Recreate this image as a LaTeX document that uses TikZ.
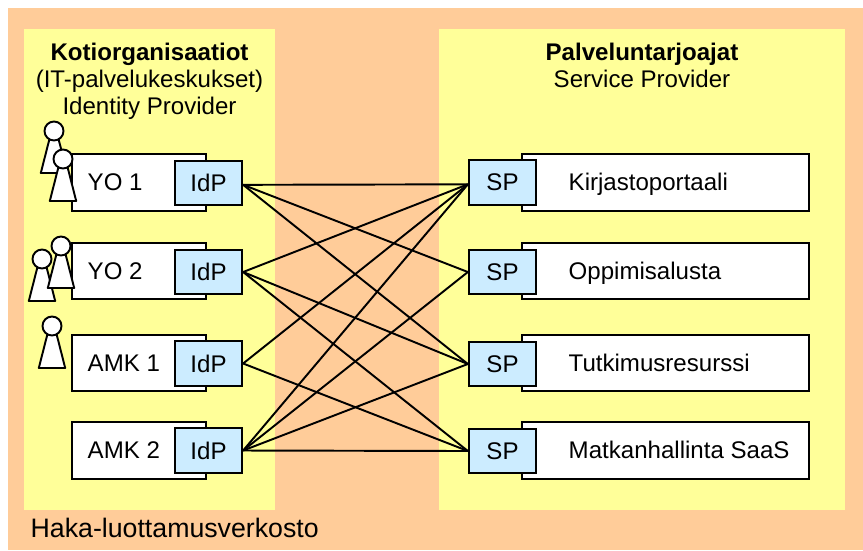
\documentclass[tikz,border=0pt]{standalone}
\usepackage{fontspec}
\setmainfont{Liberation Sans}
\usepackage{tikz}
\usetikzlibrary{positioning}
\definecolor{hakaorange}{HTML}{FFCC99}
\definecolor{hakayellow}{HTML}{FFFF99}
\definecolor{hakablue}{HTML}{CCECFF}
\tikzset{
	area/.style={shape=rectangle,fill=hakayellow,inner sep=0pt},
	org/.style={shape=rectangle,draw,fill=white,line width=0.55pt,inner sep=0pt,minimum height=0.565cm},
	idp/.style={shape=rectangle,draw,fill=hakablue,line width=0.65pt,inner sep=0pt,minimum width=0.67cm,minimum height=0.445cm,font=\fontsize{6.85}{8}\selectfont},
	txt/.style={inner sep=0pt,font=\fontsize{6.85}{8}\selectfont},
	link/.style={draw,line width=0.55pt},
	head/.style={shape=circle,draw,fill=white,line width=0.55pt,inner sep=0pt,minimum size=0.19cm},
	body/.style={draw,fill=white,line width=0.55pt,line join=round}
}
\newcommand{\henkilo}[3]{
	\draw[body] (#2,#3) ++(-0.025,0) -- ++(0.05,0) -- ++(0.107,-0.42) -- ++(-0.264,0) -- cycle;
	\node (#1) [head] at (#2,#3) {};
}
\begin{document}
\begin{tikzpicture}
	\useasboundingbox (0,0) rectangle (8.63,5.5);
	\path (4.355,2.71) node (haka) [shape=rectangle,fill=hakaorange,inner sep=0pt,minimum width=8.55cm,minimum height=5.42cm] {}
		  (1.495,2.805) node (koti) [area,minimum width=2.51cm,minimum height=4.81cm] {}
		  (6.42,2.805) node (palvelu) [area,minimum width=4.06cm,minimum height=4.81cm] {};
	% organisaatiot
	\path (1.39,3.675) node (yo1) [org,minimum width=1.34cm] {}
		  (1.39,2.79) node (yo2) [org,minimum width=1.34cm] {}
		  (1.39,1.87) node (amk1) [org,minimum width=1.34cm] {}
		  (1.39,0.995) node (amk2) [org,minimum width=1.34cm] {};
	\path (2.085,3.67) node (idp1) [idp] {IdP}
		  (2.085,2.78) node (idp2) [idp] {IdP}
		  (2.085,1.865) node (idp3) [idp] {IdP}
		  (2.085,0.995) node (idp4) [idp] {IdP};
	% palvelut
	\path (6.655,3.675) node (kirjasto) [org,minimum width=2.87cm] {}
		  (6.655,2.79) node (oppimis) [org,minimum width=2.87cm] {}
		  (6.655,1.87) node (tutkimus) [org,minimum width=2.87cm] {}
		  (6.655,0.995) node (matka) [org,minimum width=2.87cm] {};
	\path (5.025,3.675) node (sp1) [idp] {SP}
		  (5.025,2.78) node (sp2) [idp] {SP}
		  (5.025,1.86) node (sp3) [idp] {SP}
		  (5.025,0.99) node (sp4) [idp] {SP};
	% yhteydet
	\draw[link] (idp1.-3) -- (sp1.183);
	\draw[link] (idp1.-3) -- (sp2.west);
	\draw[link] (idp1.-3) -- (sp3.west);
	\draw[link] (idp2.east) -- (sp1.183);
	\draw[link] (idp2.east) -- (sp3.west);
	\draw[link] (idp2.east) -- (sp4.west);
	\draw[link] (idp3.east) -- (sp1.183);
	\draw[link] (idp3.east) -- (sp4.west);
	\draw[link] (idp4.east) -- (sp1.183);
	\draw[link] (idp4.east) -- (sp2.west);
	\draw[link] (idp4.east) -- (sp3.west);
	\draw[link] (idp4.east) -- (sp4.west);
	% henkilot
	\henkilo{h1}{0.54}{4.19}
	\henkilo{h2}{0.63}{3.91}
	\henkilo{h3}{0.42}{2.91}
	\henkilo{h4}{0.61}{3.04}
	\henkilo{h5}{0.52}{2.24}
	% tekstit
	\path (1.495,4.90) node (otsikko1) [txt,anchor=base] {\textbf{Kotiorganisaatiot}}
		  (1.495,4.63) node (it) [txt,anchor=base] {(IT-palvelukeskukset)}
		  (1.495,4.36) node (identity) [txt,anchor=base] {Identity Provider}
		  (6.42,4.90) node (otsikko2) [txt,anchor=base] {\textbf{Palveluntarjoajat}}
		  (6.42,4.63) node (service) [txt,anchor=base] {Service Provider}
		  (0.87,3.60) node (t1) [txt,anchor=base west] {YO 1}
		  (0.87,2.71) node (t2) [txt,anchor=base west] {YO 2}
		  (0.87,1.79) node (t3) [txt,anchor=base west] {AMK 1}
		  (0.87,0.92) node (t4) [txt,anchor=base west] {AMK 2}
		  (5.68,3.60) node (t5) [txt,anchor=base west] {Kirjastoportaali}
		  (5.68,2.71) node (t6) [txt,anchor=base west] {Oppimisalusta}
		  (5.68,1.79) node (t7) [txt,anchor=base west] {Tutkimusresurssi}
		  (5.68,0.92) node (t8) [txt,anchor=base west] {Matkanhallinta SaaS}
		  (0.30,0.13) node (verkosto) [txt,anchor=base west,font=\fontsize{7.6}{9}\selectfont] {Haka-luottamusverkosto};
\end{tikzpicture}
\end{document}
